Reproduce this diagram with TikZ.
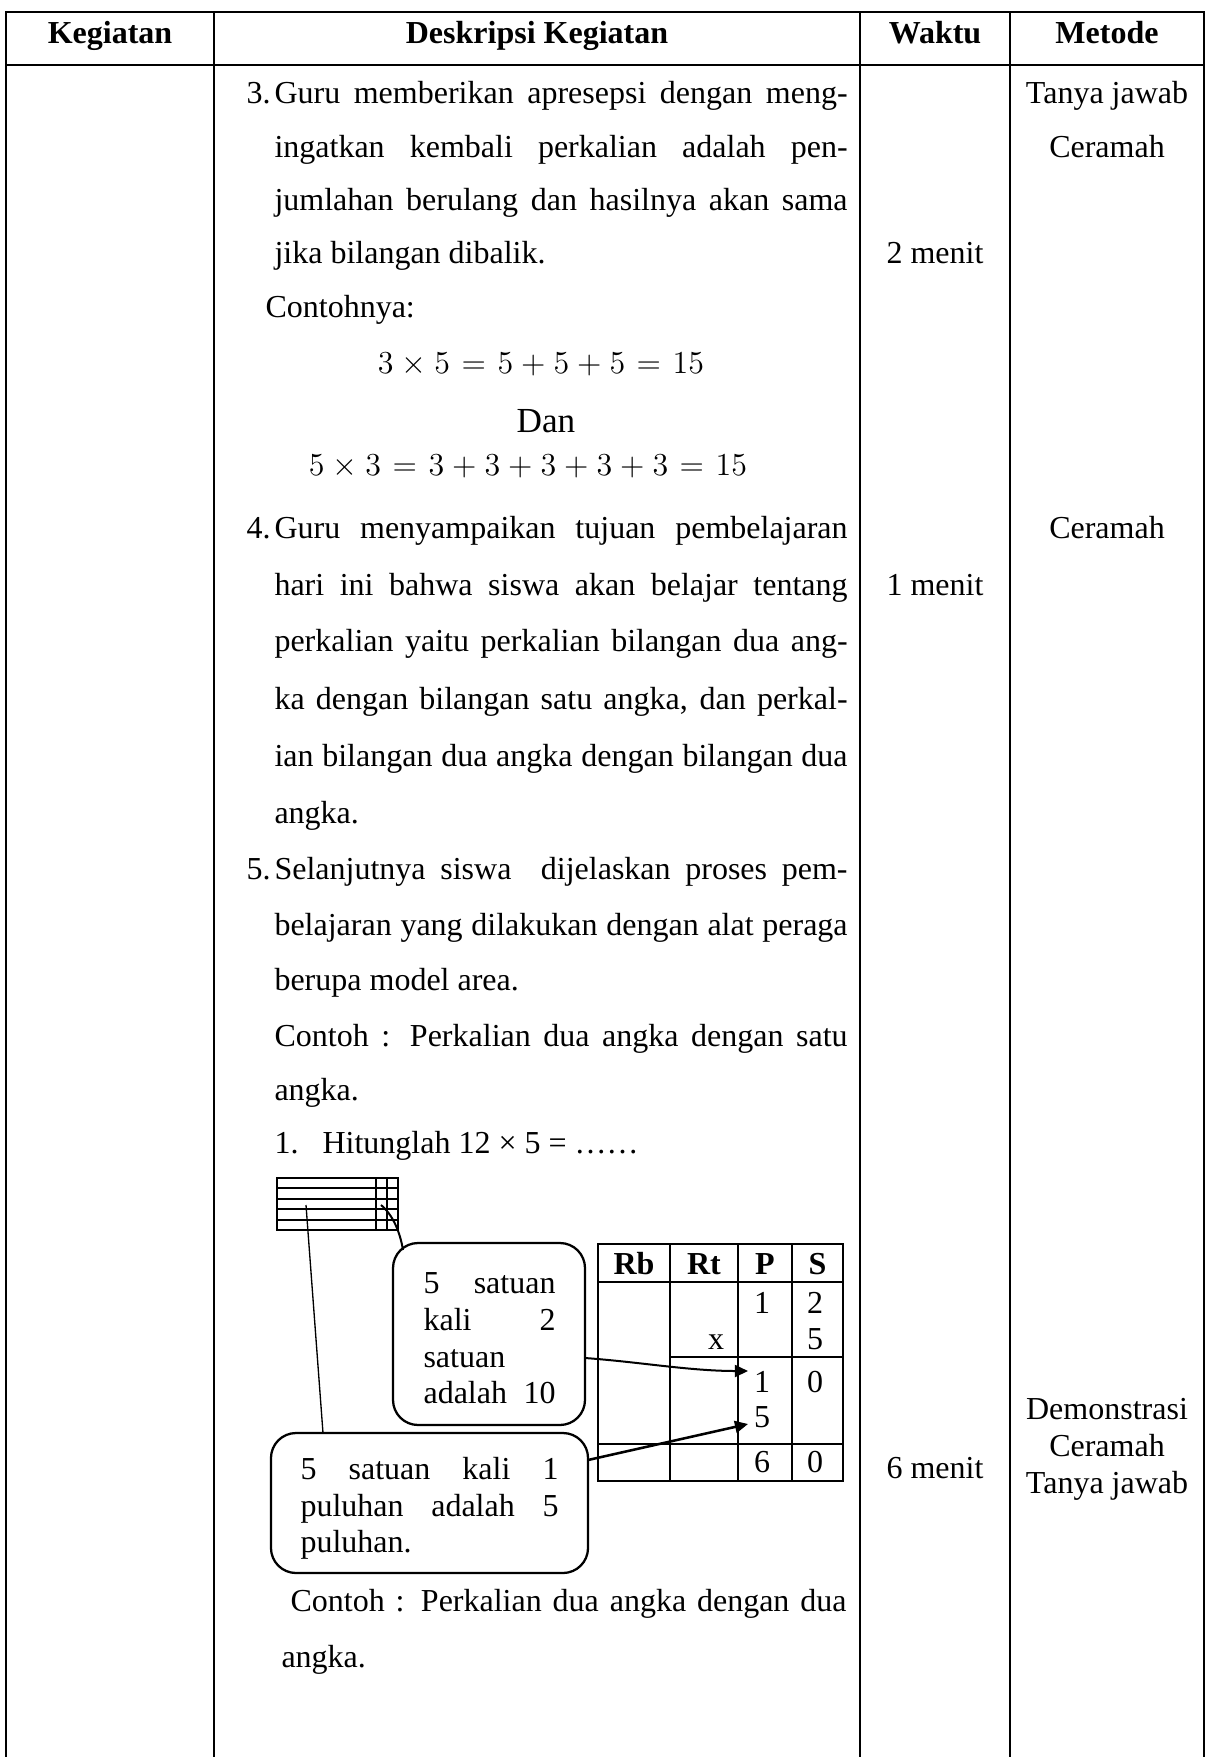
\documentclass[tikz,border=0pt]{standalone}
\usepackage{fontspec}
\setmainfont{Liberation Serif}
\usetikzlibrary{arrows.meta}
\newcommand{\jline}[1]{\makebox[214.9pt][s]{#1}}
\newcommand{\eqsp}{\thickmuskip=6.5mu\medmuskip=4.5mu}
\begin{document}
\begin{tikzpicture}[x=0.375pt,y=-0.375pt,
 tx/.style={inner sep=0pt,anchor=base west,font=\fontsize{12}{14}\selectfont},
 tc/.style={inner sep=0pt,anchor=base,font=\fontsize{12}{14}\selectfont},
 th/.style={inner sep=0pt,anchor=base,font=\fontsize{12}{14}\selectfont\bfseries},
 eq/.style={inner sep=0pt,anchor=base,font=\fontsize{13.2}{15}\selectfont\eqsp},
 rule/.style={line width=0.85pt},
 trule/.style={line width=0.95pt},
 gridln/.style={line width=0.7pt},
 callout/.style={draw,line width=0.85pt,rounded corners=9.4pt,inner sep=0pt},
 tip/.style={-{Triangle[length=4.9pt,width=4.5pt]}}
]
\fill[white] (0,0) rectangle (1208,1757);
\useasboundingbox (0,0) rectangle (1208,1757);
% main table (open at the bottom)
\draw[rule] (6,1757) -- (6,12) -- (1204,12) -- (1204,1757);
\draw[rule] (6,65) -- (1204,65);
\foreach \x in {214,860,1010} \draw[rule] (\x,12) -- (\x,1757);
\node[th] (h1) at (110,44) {Kegiatan};
\node[th] (h2) at (537,44) {Deskripsi Kegiatan};
\node[th] (h3) at (935,44) {Waktu};
\node[th] (h4) at (1107,44) {Metode};
% description
\node[tx] (n3) at (246,104) {3.};
\node[tx] (l1) at (274,104) {\jline{Guru memberikan apresepsi dengan meng-}};
\node[tx] (l2) at (274,158) {\jline{ingatkan kembali perkalian adalah pen-}};
\node[tx] (l3) at (274,211) {\jline{jumlahan berulang dan hasilnya akan sama}};
\node[tx] (l4) at (274,264) {jika bilangan dibalik.};
\node[tx] (l5) at (265,318) {Contohnya:};
\node[eq] (e1) at (541,374) {$3\times5=5+5+5=15$};
\node[eq] (dan) at (546,432) {Dan};
\node[eq] (e2) at (528,475) {$5\times3=3+3+3+3+3=15$};
\node[tx] (n4) at (246,538) {4.};
\node[tx] (l9) at (274,538) {\jline{Guru menyampaikan tujuan pembelajaran}};
\node[tx] (l10) at (274,595) {\jline{hari ini bahwa siswa akan belajar tentang}};
\node[tx] (l11) at (274,651) {\jline{perkalian yaitu perkalian bilangan dua ang-}};
\node[tx] (l12) at (274,709) {\jline{ka dengan bilangan satu angka, dan perkal-}};
\node[tx] (l13) at (274,766) {\jline{ian bilangan dua angka dengan bilangan dua}};
\node[tx] (l14) at (274,823) {angka.};
\node[tx] (n5) at (246,879) {5.};
\node[tx] (l15) at (274,879) {\jline{Selanjutnya siswa\ \ dijelaskan proses pem-}};
\node[tx] (l16) at (274,935) {\jline{belajaran yang dilakukan dengan alat peraga}};
\node[tx] (l17) at (274,990) {berupa model area.};
\node[tx] (l18) at (274,1046) {\jline{Contoh : Perkalian dua angka dengan satu}};
\node[tx] (l19) at (274,1100) {angka.};
\node[tx] (n1) at (274,1153) {1.};
\node[tx] (l20) at (322,1153) {Hitunglah 12 × 5 = ……};
\node[tx] (l21) at (290,1611) {\makebox[208.5pt][s]{Contoh : Perkalian dua angka dengan dua}};
\node[tx] (l22) at (281,1667) {angka.};
% waktu
\node[tc] (w1) at (935,264) {2 menit};
\node[tc] (w2) at (935,595) {1 menit};
\node[tc] (w3) at (935,1478) {6 menit};
% metode
\node[tc] (m1) at (1107,104) {Tanya jawab};
\node[tc] (m2) at (1107,158) {Ceramah};
\node[tc] (m3) at (1107,538) {Ceramah};
\node[tc] (m4) at (1107,1419) {Demonstrasi};
\node[tc] (m5) at (1107,1456) {Ceramah};
\node[tc] (m6) at (1107,1493) {Tanya jawab};
% area model grid
\draw[gridln] (277,1178) rectangle (398,1230);
\foreach \y in {1188.4,1198.8,1209.2,1219.6} \draw[gridln] (277,\y) -- (398,\y);
\foreach \x in {376,387} \draw[gridln] (\x,1178) -- (\x,1230);
% callouts
\node[callout,minimum width=72pt,minimum height=68.25pt] (c1) at (489,1334) {};
\node[callout,minimum width=118.9pt,minimum height=52.5pt] (c2) at (429.5,1503) {};
\node[tx] (c1a) at (423,1293) {\makebox[49.5pt][s]{5 satuan}};
\node[tx] (c1b) at (423,1330) {\makebox[49.5pt][s]{kali 2}};
\node[tx] (c1c) at (423,1367) {satuan};
\node[tx] (c1d) at (423,1403) {\makebox[49.5pt][s]{adalah 10}};
\node[tx] (c2a) at (300,1479) {\makebox[96.75pt][s]{5 satuan kali 1}};
\node[tx] (c2b) at (300,1516) {\makebox[96.75pt][s]{puluhan adalah 5}};
\node[tx] (c2c) at (300,1552) {puluhan.};
% place value table
\draw[trule] (598,1244) rectangle (843,1481);
\draw[trule] (598,1282) -- (843,1282);
\draw[trule] (670,1357) -- (843,1357);
\draw[trule] (598,1444) -- (843,1444);
\foreach \x in {670,738,792} \draw[trule] (\x,1244) -- (\x,1481);
\node[th] (rb) at (634,1274) {Rb};
\node[th] (rt) at (704,1274) {Rt};
\node[th] (rp) at (765,1274) {P};
\node[th] (rs) at (817.5,1274) {S};
\node[tc] (p1) at (762,1313) {1};
\node[tc] (s1) at (815,1313) {2};
\node[tc] (xx) at (716,1349) {x};
\node[tc] (s2) at (815,1349) {5};
\node[tc] (p2) at (762,1392) {1};
\node[tc] (s3) at (815,1392) {0};
\node[tc] (p3) at (762,1427) {5};
\node[tc] (p4) at (762,1472) {6};
\node[tc] (s4) at (815,1472) {0};
% connectors
\coordinate (g1) at (306,1205);
\coordinate (g2) at (381,1205);
\coordinate (c2top) at (323,1433);
\coordinate (c1tl) at (403,1250);
\coordinate (a1s) at (585,1358);
\coordinate (a1e) at (748,1371);
\coordinate (a2s) at (588,1460);
\coordinate (a2e) at (748,1424);
\draw[line width=0.5pt] (g1) -- (c2top);
\draw[line width=0.75pt] (g2) .. controls (393,1215) and (400,1232) .. (c1tl);
\draw[line width=0.75pt,tip] (a1s) .. controls (640,1362) and (690,1371) .. (a1e);
\draw[line width=0.95pt,tip] (a2s) -- (a2e);
\end{tikzpicture}
\end{document}
